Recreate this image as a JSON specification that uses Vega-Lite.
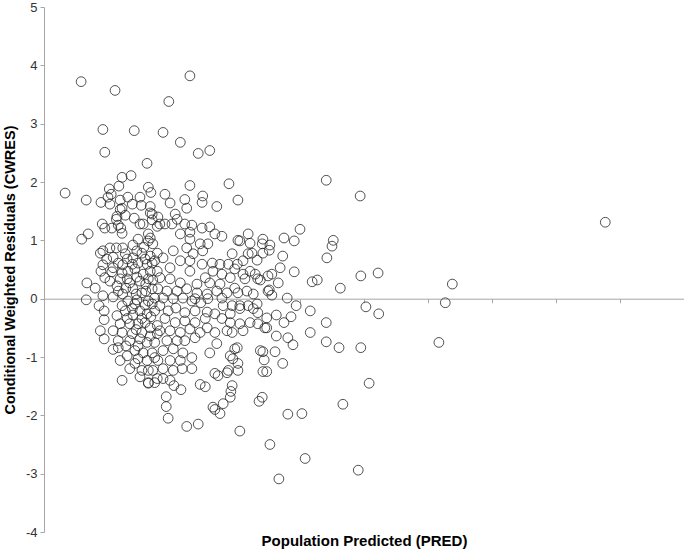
{
"$schema": "https://vega.github.io/schema/vega-lite/v6.json",
"width": 640, "height": 525,
"autosize": {"type": "none"},
"padding": {"left": 44, "top": 7, "right": 0, "bottom": 18},
"background": "white",
"config": {"view": {"stroke": null}, "axis": {"grid": false}},
"data": {"values": [
{"PRED":0.58,"CWRES":3.72},{"PRED":1.11,"CWRES":3.57},{"PRED":2.28,"CWRES":3.82},{"PRED":1.95,"CWRES":3.38},{"PRED":0.92,"CWRES":2.90},{"PRED":1.41,"CWRES":2.88},{"PRED":0.95,"CWRES":2.51},{"PRED":1.86,"CWRES":2.85},{"PRED":2.13,"CWRES":2.68},{"PRED":2.41,"CWRES":2.49},{"PRED":2.59,"CWRES":2.54},{"PRED":1.61,"CWRES":2.32},{"PRED":2.89,"CWRES":1.97},{"PRED":3.03,"CWRES":1.69},{"PRED":0.33,"CWRES":1.81},{"PRED":0.66,"CWRES":1.69},{"PRED":4.41,"CWRES":2.03},{"PRED":4.94,"CWRES":1.76},{"PRED":8.77,"CWRES":1.31},
{"PRED":4.00,"CWRES":1.19},{"PRED":3.75,"CWRES":1.04},{"PRED":3.91,"CWRES":0.99},{"PRED":3.53,"CWRES":0.92},{"PRED":3.42,"CWRES":1.02},{"PRED":3.42,"CWRES":0.78},{"PRED":3.52,"CWRES":0.83},{"PRED":3.73,"CWRES":0.73},{"PRED":3.69,"CWRES":0.53},{"PRED":3.56,"CWRES":0.42},{"PRED":3.91,"CWRES":0.46},{"PRED":3.66,"CWRES":0.27},{"PRED":3.52,"CWRES":0.15},{"PRED":3.56,"CWRES":0.06},{"PRED":3.80,"CWRES":0.01},{"PRED":3.94,"CWRES":-0.12},{"PRED":4.16,"CWRES":-0.21},{"PRED":3.86,"CWRES":-0.31},{"PRED":3.63,"CWRES":-0.28},{"PRED":3.75,"CWRES":-0.41},{"PRED":3.48,"CWRES":-0.50},{"PRED":3.63,"CWRES":-0.64},{"PRED":3.81,"CWRES":-0.67},{"PRED":3.89,"CWRES":-0.79},{"PRED":4.16,"CWRES":-0.58},{"PRED":4.41,"CWRES":-0.41},{"PRED":4.41,"CWRES":-0.74},{"PRED":4.61,"CWRES":-0.84},{"PRED":4.95,"CWRES":-0.84},{"PRED":3.61,"CWRES":-0.91},{"PRED":3.42,"CWRES":-0.91},{"PRED":3.44,"CWRES":-1.05},{"PRED":3.73,"CWRES":-1.11},{"PRED":3.42,"CWRES":-1.25},{"PRED":3.48,"CWRES":-1.25},{"PRED":5.08,"CWRES":-1.45},{"PRED":4.52,"CWRES":1.00},{"PRED":4.50,"CWRES":0.90},{"PRED":4.42,"CWRES":0.70},{"PRED":4.19,"CWRES":0.29},{"PRED":4.27,"CWRES":0.32},{"PRED":4.63,"CWRES":0.18},{"PRED":4.95,"CWRES":0.39},{"PRED":5.22,"CWRES":0.44},{"PRED":5.03,"CWRES":-0.14},{"PRED":5.23,"CWRES":-0.26},{"PRED":3.38,"CWRES":0.32},{"PRED":6.38,"CWRES":0.25},{"PRED":6.27,"CWRES":-0.07},{"PRED":6.17,"CWRES":-0.75},
{"PRED":1.22,"CWRES":-1.40},{"PRED":1.91,"CWRES":-1.68},{"PRED":1.91,"CWRES":-1.85},{"PRED":1.94,"CWRES":-2.05},{"PRED":2.23,"CWRES":-2.19},{"PRED":2.41,"CWRES":-2.15},{"PRED":2.67,"CWRES":-1.90},{"PRED":2.75,"CWRES":-1.97},{"PRED":2.80,"CWRES":-1.80},{"PRED":2.91,"CWRES":-1.69},{"PRED":2.92,"CWRES":-1.59},{"PRED":2.94,"CWRES":-1.49},{"PRED":3.36,"CWRES":-1.76},{"PRED":3.06,"CWRES":-2.27},{"PRED":3.53,"CWRES":-2.50},{"PRED":3.67,"CWRES":-3.09},{"PRED":3.81,"CWRES":-1.98},{"PRED":4.03,"CWRES":-1.97},{"PRED":2.14,"CWRES":-1.56},{"PRED":2.03,"CWRES":-1.49},{"PRED":2.44,"CWRES":-1.47},{"PRED":2.52,"CWRES":-1.51},{"PRED":1.63,"CWRES":-1.45},{"PRED":4.67,"CWRES":-1.81},{"PRED":4.08,"CWRES":-2.74},{"PRED":4.91,"CWRES":-2.94},
{"PRED":0.69,"CWRES":1.11},{"PRED":0.59,"CWRES":1.02},{"PRED":0.67,"CWRES":0.27},{"PRED":0.66,"CWRES":-0.02},{"PRED":0.94,"CWRES":-0.36},{"PRED":0.94,"CWRES":-0.69},{"PRED":1.08,"CWRES":-0.87},{"PRED":0.88,"CWRES":0.78},{"PRED":0.89,"CWRES":0.47},{"PRED":0.86,"CWRES":-0.12},{"PRED":0.94,"CWRES":-0.21},{"PRED":0.88,"CWRES":-0.55},{"PRED":0.80,"CWRES":0.18},
{"PRED":1.22,"CWRES":2.08},{"PRED":1.36,"CWRES":2.11},{"PRED":1.17,"CWRES":1.93},{"PRED":1.02,"CWRES":1.88},{"PRED":1.05,"CWRES":1.79},{"PRED":1.00,"CWRES":1.74},{"PRED":0.89,"CWRES":1.65},{"PRED":1.19,"CWRES":1.69},{"PRED":1.31,"CWRES":1.74},{"PRED":1.50,"CWRES":1.74},{"PRED":1.63,"CWRES":1.91},{"PRED":1.67,"CWRES":1.82},{"PRED":1.03,"CWRES":1.62},{"PRED":1.22,"CWRES":1.55},{"PRED":1.38,"CWRES":1.62},{"PRED":1.52,"CWRES":1.60},{"PRED":1.66,"CWRES":1.58},{"PRED":1.14,"CWRES":1.41},{"PRED":1.27,"CWRES":1.43},{"PRED":1.41,"CWRES":1.38},{"PRED":1.55,"CWRES":1.28},{"PRED":1.69,"CWRES":1.45},{"PRED":0.91,"CWRES":1.28},{"PRED":0.95,"CWRES":1.21},{"PRED":1.06,"CWRES":1.21},{"PRED":1.16,"CWRES":1.26},{"PRED":1.22,"CWRES":1.12},{"PRED":1.50,"CWRES":1.28},{"PRED":1.63,"CWRES":1.11},{"PRED":1.77,"CWRES":1.24},
{"PRED":1.19,"CWRES":1.53},{"PRED":1.13,"CWRES":1.36},{"PRED":1.66,"CWRES":1.47},{"PRED":1.69,"CWRES":1.35},{"PRED":1.20,"CWRES":1.21},{"PRED":1.47,"CWRES":1.02},{"PRED":1.63,"CWRES":0.99},{"PRED":0.92,"CWRES":0.82},{"PRED":1.03,"CWRES":0.87},{"PRED":1.13,"CWRES":0.87},{"PRED":1.23,"CWRES":0.87},{"PRED":1.39,"CWRES":0.92},{"PRED":1.56,"CWRES":0.88},{"PRED":1.70,"CWRES":0.94},{"PRED":0.98,"CWRES":0.68},{"PRED":1.08,"CWRES":0.71},{"PRED":1.27,"CWRES":0.77},{"PRED":1.39,"CWRES":0.70},{"PRED":1.53,"CWRES":0.78},{"PRED":1.66,"CWRES":0.73},{"PRED":1.77,"CWRES":0.78},{"PRED":0.92,"CWRES":0.58},{"PRED":1.08,"CWRES":0.53},{"PRED":1.23,"CWRES":0.58},{"PRED":1.38,"CWRES":0.59},{"PRED":1.47,"CWRES":0.61},{"PRED":1.61,"CWRES":0.59},{"PRED":1.73,"CWRES":0.65},{"PRED":0.95,"CWRES":0.36},{"PRED":1.06,"CWRES":0.46},{"PRED":1.22,"CWRES":0.44},{"PRED":1.31,"CWRES":0.47},{"PRED":1.42,"CWRES":0.51},{"PRED":1.55,"CWRES":0.42},{"PRED":1.66,"CWRES":0.47},{"PRED":1.77,"CWRES":0.47},{"PRED":1.03,"CWRES":0.30},{"PRED":1.19,"CWRES":0.34},{"PRED":1.34,"CWRES":0.27},{"PRED":1.50,"CWRES":0.30},{"PRED":1.63,"CWRES":0.34},{"PRED":0.92,"CWRES":0.05},{"PRED":1.08,"CWRES":0.03},{"PRED":1.23,"CWRES":0.08},{"PRED":1.39,"CWRES":0.17},{"PRED":1.53,"CWRES":0.10},{"PRED":1.69,"CWRES":0.17},
{"PRED":1.22,"CWRES":-0.12},{"PRED":1.31,"CWRES":-0.04},{"PRED":1.42,"CWRES":-0.09},{"PRED":1.63,"CWRES":-0.04},{"PRED":1.73,"CWRES":0.01},{"PRED":1.38,"CWRES":-0.17},{"PRED":1.50,"CWRES":-0.21},{"PRED":1.61,"CWRES":-0.26},{"PRED":1.73,"CWRES":-0.21},{"PRED":1.19,"CWRES":-0.43},{"PRED":1.34,"CWRES":-0.43},{"PRED":1.47,"CWRES":-0.43},{"PRED":1.58,"CWRES":-0.41},{"PRED":1.66,"CWRES":-0.50},{"PRED":1.77,"CWRES":-0.46},{"PRED":1.22,"CWRES":-0.58},{"PRED":1.38,"CWRES":-0.60},{"PRED":1.53,"CWRES":-0.58},{"PRED":1.66,"CWRES":-0.64},{"PRED":1.77,"CWRES":-0.60},{"PRED":1.16,"CWRES":-0.72},{"PRED":1.34,"CWRES":-0.72},{"PRED":1.47,"CWRES":-0.81},{"PRED":1.61,"CWRES":-0.75},{"PRED":1.73,"CWRES":-0.75},{"PRED":1.42,"CWRES":-0.89},{"PRED":1.55,"CWRES":-0.93},{"PRED":1.69,"CWRES":-0.93},{"PRED":1.47,"CWRES":-1.03},{"PRED":1.61,"CWRES":-1.06},{"PRED":1.73,"CWRES":-1.01},{"PRED":1.63,"CWRES":-1.23},{"PRED":1.53,"CWRES":-1.23},{"PRED":1.50,"CWRES":-1.34},{"PRED":1.63,"CWRES":-1.44},{"PRED":1.77,"CWRES":-1.37},
{"PRED":1.89,"CWRES":1.79},{"PRED":1.97,"CWRES":1.64},{"PRED":2.20,"CWRES":1.70},{"PRED":2.23,"CWRES":1.55},{"PRED":2.48,"CWRES":1.76},{"PRED":2.47,"CWRES":1.65},{"PRED":2.70,"CWRES":1.58},{"PRED":2.05,"CWRES":1.45},{"PRED":2.08,"CWRES":1.36},{"PRED":1.78,"CWRES":1.40},{"PRED":1.81,"CWRES":1.28},{"PRED":2.00,"CWRES":1.28},{"PRED":2.20,"CWRES":1.28},{"PRED":2.31,"CWRES":1.26},{"PRED":2.47,"CWRES":1.21},{"PRED":2.59,"CWRES":1.23},{"PRED":2.28,"CWRES":1.14},{"PRED":2.78,"CWRES":1.07},{"PRED":3.03,"CWRES":1.00},{"PRED":3.19,"CWRES":1.11},{"PRED":1.66,"CWRES":1.04},{"PRED":2.13,"CWRES":1.11},{"PRED":2.28,"CWRES":1.94},
{"PRED":1.89,"CWRES":1.28},{"PRED":2.28,"CWRES":1.02},{"PRED":2.44,"CWRES":0.94},{"PRED":2.56,"CWRES":0.94},{"PRED":2.67,"CWRES":1.11},{"PRED":3.22,"CWRES":0.95},{"PRED":2.23,"CWRES":0.87},{"PRED":2.02,"CWRES":0.82},{"PRED":2.33,"CWRES":0.77},{"PRED":2.48,"CWRES":0.82},{"PRED":2.94,"CWRES":0.77},{"PRED":3.25,"CWRES":0.78},{"PRED":1.86,"CWRES":0.70},{"PRED":2.13,"CWRES":0.65},{"PRED":2.28,"CWRES":0.65},{"PRED":2.47,"CWRES":0.59},{"PRED":2.63,"CWRES":0.61},{"PRED":2.75,"CWRES":0.59},{"PRED":2.88,"CWRES":0.59},{"PRED":3.02,"CWRES":0.59},{"PRED":3.11,"CWRES":0.65},{"PRED":3.33,"CWRES":0.66},{"PRED":1.97,"CWRES":0.53},{"PRED":2.28,"CWRES":0.47},{"PRED":2.52,"CWRES":0.36},{"PRED":2.64,"CWRES":0.47},{"PRED":2.78,"CWRES":0.42},{"PRED":2.91,"CWRES":0.36},{"PRED":3.11,"CWRES":0.42},{"PRED":3.30,"CWRES":0.42},{"PRED":3.17,"CWRES":0.13},{"PRED":2.98,"CWRES":0.18},{"PRED":2.75,"CWRES":0.25},{"PRED":2.59,"CWRES":0.27},{"PRED":2.39,"CWRES":0.25},{"PRED":2.13,"CWRES":0.27},{"PRED":1.97,"CWRES":0.34},{"PRED":1.81,"CWRES":0.36},{"PRED":1.78,"CWRES":0.17},{"PRED":1.92,"CWRES":0.13},{"PRED":2.08,"CWRES":0.13},{"PRED":2.23,"CWRES":0.17},{"PRED":2.39,"CWRES":0.10},{"PRED":2.55,"CWRES":0.08},{"PRED":2.70,"CWRES":0.13},{"PRED":2.86,"CWRES":0.10},{"PRED":3.03,"CWRES":0.10},{"PRED":3.27,"CWRES":0.08},{"PRED":2.17,"CWRES":0.01},{"PRED":2.36,"CWRES":0.00},{"PRED":2.56,"CWRES":0.00},{"PRED":2.78,"CWRES":0.01},
{"PRED":1.86,"CWRES":0.01},{"PRED":2.02,"CWRES":0.00},{"PRED":2.31,"CWRES":-0.04},{"PRED":2.45,"CWRES":-0.07},{"PRED":2.80,"CWRES":-0.12},{"PRED":2.94,"CWRES":-0.12},{"PRED":3.06,"CWRES":-0.12},{"PRED":3.19,"CWRES":-0.12},{"PRED":3.33,"CWRES":-0.09},{"PRED":2.67,"CWRES":-0.26},{"PRED":2.91,"CWRES":-0.26},{"PRED":3.06,"CWRES":-0.43},{"PRED":3.22,"CWRES":-0.41},{"PRED":3.34,"CWRES":-0.43},{"PRED":2.86,"CWRES":-0.55},{"PRED":2.67,"CWRES":-0.58},{"PRED":2.55,"CWRES":-0.50},{"PRED":2.44,"CWRES":-0.58},{"PRED":2.28,"CWRES":-0.52},{"PRED":2.13,"CWRES":-0.58},{"PRED":1.97,"CWRES":-0.55},{"PRED":1.81,"CWRES":-0.55},{"PRED":1.92,"CWRES":-0.72},{"PRED":2.08,"CWRES":-0.72},{"PRED":2.20,"CWRES":-0.72},{"PRED":2.36,"CWRES":-0.67},{"PRED":2.70,"CWRES":-0.77},{"PRED":2.59,"CWRES":-0.93},{"PRED":2.91,"CWRES":-0.98},{"PRED":2.98,"CWRES":-0.86},{"PRED":2.95,"CWRES":-1.03},{"PRED":3.03,"CWRES":-1.11},{"PRED":3.38,"CWRES":-0.89},{"PRED":1.86,"CWRES":-0.89},{"PRED":2.02,"CWRES":-0.86},{"PRED":2.17,"CWRES":-0.93},{"PRED":2.31,"CWRES":-1.01},{"PRED":2.13,"CWRES":-1.06},{"PRED":1.97,"CWRES":-1.06},{"PRED":1.78,"CWRES":-1.06},{"PRED":1.70,"CWRES":-1.23},{"PRED":1.86,"CWRES":-1.20},{"PRED":2.02,"CWRES":-1.23},{"PRED":2.16,"CWRES":-1.20},{"PRED":2.31,"CWRES":-1.20},{"PRED":1.86,"CWRES":-1.37},{"PRED":1.73,"CWRES":-1.44},{"PRED":1.97,"CWRES":-1.40},{"PRED":2.72,"CWRES":-1.32},{"PRED":2.88,"CWRES":-1.23},{"PRED":3.03,"CWRES":-1.23},{"PRED":2.64,"CWRES":-1.86},
{"PRED":3.06,"CWRES":0.99},{"PRED":3.41,"CWRES":0.94},{"PRED":3.19,"CWRES":0.77},{"PRED":2.98,"CWRES":0.51},{"PRED":3.22,"CWRES":0.47},{"PRED":3.34,"CWRES":0.34},{"PRED":3.50,"CWRES":0.39},{"PRED":3.14,"CWRES":0.34},{"PRED":3.50,"CWRES":0.13},{"PRED":3.06,"CWRES":-0.17},{"PRED":3.27,"CWRES":-0.17},{"PRED":3.34,"CWRES":-0.24},{"PRED":3.45,"CWRES":-0.50},{"PRED":3.48,"CWRES":-0.33},{"PRED":2.91,"CWRES":-0.41},{"PRED":3.11,"CWRES":-0.55},{"PRED":2.94,"CWRES":-0.58},{"PRED":3.02,"CWRES":-0.84},{"PRED":2.86,"CWRES":-1.27},{"PRED":3.41,"CWRES":-1.69},{"PRED":2.67,"CWRES":-1.28},
{"PRED":1.30,"CWRES":0.68},{"PRED":1.45,"CWRES":0.82},{"PRED":1.58,"CWRES":0.68},{"PRED":1.69,"CWRES":0.61},{"PRED":1.16,"CWRES":0.61},{"PRED":1.30,"CWRES":0.34},{"PRED":1.45,"CWRES":0.37},{"PRED":1.59,"CWRES":0.25},{"PRED":1.70,"CWRES":0.32},{"PRED":1.14,"CWRES":0.22},{"PRED":1.28,"CWRES":0.18},{"PRED":1.44,"CWRES":0.08},{"PRED":1.59,"CWRES":0.13},{"PRED":1.16,"CWRES":0.13},{"PRED":1.45,"CWRES":-0.02},{"PRED":1.58,"CWRES":-0.11},{"PRED":1.69,"CWRES":-0.09},{"PRED":1.27,"CWRES":-0.21},{"PRED":1.39,"CWRES":-0.28},{"PRED":1.53,"CWRES":-0.34},{"PRED":1.67,"CWRES":-0.31},{"PRED":1.14,"CWRES":-0.29},{"PRED":1.30,"CWRES":-0.34},{"PRED":1.44,"CWRES":-0.53},{"PRED":1.08,"CWRES":-0.55},{"PRED":1.16,"CWRES":-0.84},{"PRED":1.28,"CWRES":-0.81},{"PRED":1.50,"CWRES":-0.69},{"PRED":1.30,"CWRES":-0.98},{"PRED":1.42,"CWRES":-1.11},{"PRED":1.19,"CWRES":-1.06},{"PRED":1.34,"CWRES":-1.20},
{"PRED":1.81,"CWRES":-0.12},{"PRED":1.94,"CWRES":-0.21},{"PRED":2.06,"CWRES":-0.16},{"PRED":2.20,"CWRES":-0.24},{"PRED":2.36,"CWRES":-0.21},{"PRED":2.55,"CWRES":-0.23},{"PRED":1.89,"CWRES":-0.34},{"PRED":2.05,"CWRES":-0.41},{"PRED":2.20,"CWRES":-0.38},{"PRED":2.36,"CWRES":-0.41},{"PRED":2.52,"CWRES":-0.34},{"PRED":2.78,"CWRES":-0.34}
]},
"mark": {"type": "point", "shape": "circle", "filled": false, "stroke": "#262626", "strokeWidth": 0.8, "size": 95, "opacity": 1},
"encoding": {
  "x": {"field": "PRED", "type": "quantitative",
    "scale": {"domain": [0, 10], "nice": false, "zero": false},
    "axis": {"title": "Population Predicted (PRED)", "labels": false, "values": [0,1,2,3,4,5,6,7,8,9,10],
      "offset": -233.3, "domainColor": "#a6a6a6", "tickColor": "#a6a6a6", "tickSize": 4, "domainWidth": 1,
      "titleFont": "Liberation Sans", "titleFontSize": 15, "titleFontWeight": "bold", "titleColor": "#000000", "titlePadding": 230}},
  "y": {"field": "CWRES", "type": "quantitative",
    "scale": {"domain": [-4, 5], "nice": false, "zero": false},
    "axis": {"title": "Conditional Weighted Residuals (CWRES)", "values": [-4,-3,-2,-1,0,1,2,3,4,5],
      "labelExpr": "datum.value",
      "domainColor": "#a6a6a6", "tickColor": "#a6a6a6", "tickSize": 4, "labelPadding": 3,
      "labelFont": "Liberation Sans", "labelFontSize": 13, "labelColor": "#333333",
      "titleFont": "Liberation Sans", "titleFontSize": 14.5, "titleFontWeight": "bold", "titleColor": "#000000", "titlePadding": 8}}
}
}
